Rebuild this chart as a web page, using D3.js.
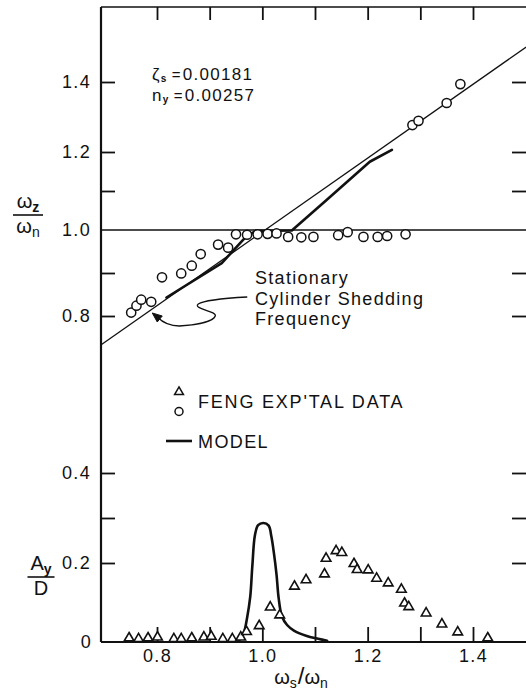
<!DOCTYPE html>
<html>
<head>
<meta charset="utf-8">
<script src="https://cdn.jsdelivr.net/npm/d3@7"></script>
<style>
  html, body { margin: 0; padding: 0; background: #fff; }
  svg text { font-family: "Liberation Sans", Arial, sans-serif; fill: #111; }
</style>
</head>
<body>
<svg id="chart" width="526" height="693"></svg>
<script>
// ---- frequency ratio ω_z/ω_n versus ω_s/ω_n (upper panel) ----
const circleX = [0.751, 0.761, 0.770, 0.789, 0.8095, 0.846, 0.866, 0.883, 0.916, 0.935,
                 0.950, 0.971, 0.991, 1.010, 1.027, 1.049, 1.074, 1.097, 1.144, 1.162,
                 1.192, 1.219, 1.237, 1.272, 1.285, 1.2965, 1.350, 1.376];
const circleY = [0.808, 0.824, 0.838, 0.833, 0.890, 0.899, 0.917, 0.944, 0.966, 0.959,
                 0.990, 0.989, 0.990, 0.991, 0.992, 0.984, 0.983, 0.984, 0.988, 0.995,
                 0.984, 0.984, 0.986, 0.990, 1.277, 1.289, 1.340, 1.394];

// model frequency curve
const modelFreqX = [0.818, 0.923, 0.970, 0.988, 1.056, 1.122, 1.204, 1.246];
const modelFreqY = [0.843, 0.923, 0.986, 0.998, 0.999, 1.077, 1.175, 1.206];

// stationary cylinder shedding frequency line (end points)
const sheddingX = [0.694, 1.501];
const sheddingY = [0.733, 1.500];

// ---- amplitude A_y/D (lower panel) ----
const triX = [0.747, 0.765, 0.783, 0.801, 0.832, 0.846, 0.866, 0.889, 0.903, 0.925,
              0.943, 0.959, 0.970, 0.994, 1.015, 1.033, 1.061, 1.083, 1.118, 1.121,
              1.140, 1.151, 1.174, 1.180, 1.201, 1.217, 1.239, 1.264, 1.270, 1.278,
              1.311, 1.341, 1.371, 1.428];
const triY = [0.010, 0.008, 0.010, 0.012, 0.008, 0.008, 0.010, 0.012, 0.014, 0.008,
              0.008, 0.012, 0.026, 0.041, 0.088, 0.068, 0.141, 0.157, 0.172, 0.210,
              0.227, 0.223, 0.198, 0.183, 0.182, 0.161, 0.149, 0.133, 0.098, 0.089,
              0.073, 0.045, 0.025, 0.010];

const modelAmpX = [0.954, 0.964, 0.971, 0.977, 0.981, 0.986, 0.992, 1.002, 1.012, 1.017,
                   1.022, 1.027, 1.031, 1.037, 1.047, 1.060, 1.083, 1.106, 1.123];
const modelAmpY = [0.001, 0.020, 0.061, 0.114, 0.192, 0.262, 0.284, 0.289, 0.283, 0.260,
                   0.222, 0.170, 0.111, 0.066, 0.043, 0.029, 0.016, 0.008, 0.003];

// ---- ticks ----
const xTicks = [0.8, 0.9, 1.0, 1.1, 1.2, 1.3, 1.4];
const xTickLabels = ["0.8", "", "1.0", "", "1.2", "", "1.4"];
const yTopTicks = [0.8, 0.9, 1.1, 1.2, 1.4];
const yTopTickLabels = ["0.8", "", "", "1.2", "1.4"];
const yTopLabeledOne = ["1.0"];
const yBotTicks = [0.2, 0.3, 0.4];
const yBotTickLabels = ["0.2", "", "0.4"];
const yBotZeroLabel = ["0"];

const params = [["ζ", "s", "0.00181"], ["n", "y", "0.00257"]];
const annotationLines = ["Stationary", "Cylinder Shedding", "Frequency"];
const legendLabels = ["FENG EXP'TAL DATA", "MODEL"];

const svg = d3.select("#chart");
const leftX = 101, topY = 7, rightX = 529, bottomY = 642;

const x = d3.scaleLinear().domain([0.8, 1.4]).range([157, 473]);
const yTop = d3.scaleLinear().domain([0.8, 1.0, 1.2, 1.4]).range([316, 230, 152, 82]);
const yBot = d3.scaleLinear().domain([0, 0.2, 0.4]).range([642, 563, 473]);

const ink = "#111";
const fontSize = 18, spacing = "1.3px";

function styleAxis(g, w) {
  g.select(".domain").remove();
  g.selectAll(".tick line").attr("stroke", ink).attr("stroke-width", w);
  g.selectAll(".tick text")
    .attr("font-size", fontSize)
    .attr("letter-spacing", spacing)
    .attr("fill", ink)
    .style("font-family", "'Liberation Sans', Arial, sans-serif");
}

// frame lines
svg.append("line").attr("x1", leftX).attr("x2", rightX + 5).attr("y1", topY).attr("y2", topY)
  .attr("stroke", ink).attr("stroke-width", 1.6);
svg.append("line").attr("x1", leftX).attr("x2", leftX).attr("y1", topY).attr("y2", bottomY)
  .attr("stroke", ink).attr("stroke-width", 2.2);
svg.append("line").attr("x1", leftX).attr("x2", rightX + 5).attr("y1", bottomY).attr("y2", bottomY)
  .attr("stroke", ink).attr("stroke-width", 2);

// reference line ω_z/ω_n = 1
svg.append("line")
  .attr("x1", leftX).attr("x2", rightX)
  .attr("y1", yTop(1.0)).attr("y2", yTop(1.0))
  .attr("stroke", ink).attr("stroke-width", 1.5);

// bottom x axis
svg.append("g").attr("transform", `translate(0,${bottomY})`)
  .call(d3.axisBottom(x).tickValues(xTicks).tickSizeInner(-15).tickSizeOuter(0).tickPadding(7)
    .tickFormat((d, i) => xTickLabels[i]))
  .call(g => styleAxis(g, 1.8));

// top ticks
svg.append("g").attr("transform", `translate(0,${topY})`)
  .call(d3.axisTop(x).tickValues(xTicks).tickSizeInner(-13).tickSizeOuter(0).tickFormat(""))
  .call(g => styleAxis(g, 1.8));

// left axes
svg.append("g").attr("transform", `translate(${leftX},0)`)
  .call(d3.axisLeft(yTop).tickValues(yTopTicks).tickSizeInner(-14).tickSizeOuter(0).tickPadding(10)
    .tickFormat((d, i) => yTopTickLabels[i]))
  .call(g => styleAxis(g, 1.8));
svg.append("g").attr("transform", `translate(${leftX},0)`)
  .call(d3.axisLeft(yTop).tickValues([1.0]).tickSizeInner(0).tickSizeOuter(0).tickPadding(10)
    .tickFormat((d, i) => yTopLabeledOne[i]))
  .call(g => styleAxis(g, 0));
svg.append("g").attr("transform", `translate(${leftX},0)`)
  .call(d3.axisLeft(yBot).tickValues(yBotTicks).tickSizeInner(-14).tickSizeOuter(0).tickPadding(10)
    .tickFormat((d, i) => yBotTickLabels[i]))
  .call(g => styleAxis(g, 1.8));
svg.append("g").attr("transform", `translate(${leftX},0)`)
  .call(d3.axisLeft(yBot).tickValues([0]).tickSizeInner(0).tickSizeOuter(0).tickPadding(9)
    .tickFormat((d, i) => yBotZeroLabel[i]))
  .call(g => styleAxis(g, 0));

// right ticks
svg.append("g").attr("transform", `translate(${rightX},0)`)
  .call(d3.axisRight(yTop).tickValues(yTopTicks).tickSizeInner(-17).tickSizeOuter(0).tickFormat(""))
  .call(g => styleAxis(g, 1.8));
svg.append("g").attr("transform", `translate(${rightX},0)`)
  .call(d3.axisRight(yBot).tickValues(yBotTicks).tickSizeInner(-17).tickSizeOuter(0).tickFormat(""))
  .call(g => styleAxis(g, 1.8));

// shedding frequency line
const line = d3.line();
svg.append("path")
  .attr("d", line(sheddingX.map((v, i) => [x(v), yTop(sheddingY[i])])))
  .attr("fill", "none").attr("stroke", ink).attr("stroke-width", 1.3);

// model frequency
svg.append("path")
  .attr("d", d3.line().curve(d3.curveLinear)(modelFreqX.map((v, i) => [x(v), yTop(modelFreqY[i])])))
  .attr("fill", "none").attr("stroke", ink).attr("stroke-width", 2.6)
  .attr("stroke-linejoin", "round").attr("stroke-linecap", "round");

// circles
svg.append("g").selectAll("circle")
  .data(circleX.map((v, i) => [v, circleY[i]]))
  .join("circle")
  .attr("cx", d => x(d[0])).attr("cy", d => yTop(d[1]))
  .attr("r", 4.6)
  .attr("fill", "#fff").attr("stroke", ink).attr("stroke-width", 1.5);

// model amplitude
svg.append("path")
  .attr("d", d3.line().curve(d3.curveCatmullRom.alpha(0.5))(modelAmpX.map((v, i) => [x(v), yBot(modelAmpY[i])])))
  .attr("fill", "none").attr("stroke", ink).attr("stroke-width", 2.6)
  .attr("stroke-linejoin", "round").attr("stroke-linecap", "round");

// triangles
const tri = d3.symbol().type(d3.symbolTriangle).size(40);
svg.append("g").selectAll("path")
  .data(triX.map((v, i) => [v, triY[i]]))
  .join("path")
  .attr("d", tri)
  .attr("transform", d => `translate(${x(d[0])},${yBot(d[1])})`)
  .attr("fill", "#fff").attr("stroke", ink).attr("stroke-width", 1.6)
  .attr("stroke-linejoin", "miter");

// parameter text
params.forEach((p, i) => {
  const t = svg.append("text")
    .attr("x", 152).attr("y", 80 + i * 21)
    .attr("font-size", 17).attr("letter-spacing", spacing);
  t.append("tspan").text(p[0]);
  t.append("tspan").attr("font-size", 10).attr("dy", 2).attr("font-weight", "bold").text(p[1]);
  t.append("tspan").attr("dy", -2).attr("dx", 4).attr("font-size", 15).text("=");
  t.append("tspan").attr("dx", 1).text(p[2]);
});

// annotation text
annotationLines.forEach((s, i) => {
  svg.append("text")
    .attr("x", 255).attr("y", 284 + i * 20.5)
    .attr("font-size", fontSize).attr("letter-spacing", spacing)
    .text(s);
});

// annotation arrow, anchored at a point on the shedding line
const tip = [x(0.791), yTop(0.807)];
const tx = tip[0], ty = tip[1];
const arrowPath = `M${tx + 95},${ty - 16} C${tx + 77},${ty - 15} ${tx + 52},${ty - 13} ${tx + 46},${ty - 9}` +
  ` C${tx + 40},${ty - 4} ${tx + 65},${ty - 2} ${tx + 63},${ty + 3}` +
  ` C${tx + 61},${ty + 9} ${tx + 42},${ty + 12} ${tx + 27},${ty + 13}` +
  ` C${tx + 17},${ty + 13} ${tx + 10},${ty + 9} ${tx + 5},${ty + 4}`;
svg.append("path").attr("d", arrowPath)
  .attr("fill", "none").attr("stroke", ink).attr("stroke-width", 1.3);
svg.append("path")
  .attr("d", `M${tx},${ty} L${tx + 10},${ty + 3} L${tx + 5},${ty + 9} Z`)
  .attr("fill", ink).attr("stroke", ink).attr("stroke-width", 1);

// legend
svg.append("path").attr("d", d3.symbol().type(d3.symbolTriangle).size(34))
  .attr("transform", "translate(179,392)")
  .attr("fill", "#fff").attr("stroke", ink).attr("stroke-width", 1.5);
svg.append("circle").attr("cx", 179).attr("cy", 411.5).attr("r", 4)
  .attr("fill", "#fff").attr("stroke", ink).attr("stroke-width", 1.5);
svg.append("text").attr("x", 198).attr("y", 408)
  .attr("font-size", fontSize).attr("letter-spacing", "1.8px").text(legendLabels[0]);
svg.append("line").attr("x1", 166).attr("x2", 192).attr("y1", 441).attr("y2", 441)
  .attr("stroke", ink).attr("stroke-width", 2.6);
svg.append("text").attr("x", 198).attr("y", 448)
  .attr("font-size", fontSize).attr("letter-spacing", "1.4px").text(legendLabels[1]);

// y axis titles
function fraction(cx, barY, topParts, botParts, w) {
  const g = svg.append("g");
  const t1 = g.append("text").attr("x", cx).attr("y", barY - 7).attr("text-anchor", "middle")
    .attr("font-size", 20);
  t1.append("tspan").text(topParts[0]);
  t1.append("tspan").attr("font-size", 14).attr("dy", 4).attr("font-weight", "bold").text(topParts[1]);
  g.append("line").attr("x1", cx - w / 2).attr("x2", cx + w / 2).attr("y1", barY).attr("y2", barY)
    .attr("stroke", ink).attr("stroke-width", 1.6);
  const t2 = g.append("text").attr("x", cx).attr("y", barY + 18).attr("text-anchor", "middle")
    .attr("font-size", 20);
  t2.append("tspan").text(botParts[0]);
  if (botParts[1]) t2.append("tspan").attr("font-size", 14).attr("dy", 4).text(botParts[1]);
}
fraction(28, 215, ["ω", "z"], ["ω", "n"], 30);
fraction(41, 577, ["A", "y"], ["D", ""], 27);

// x axis title
const xt = svg.append("text").attr("x", 301).attr("y", 684).attr("text-anchor", "middle")
  .attr("font-size", 20);
xt.append("tspan").text("ω");
xt.append("tspan").attr("font-size", 14).attr("dy", 4).text("s");
xt.append("tspan").attr("dy", -4).attr("font-size", 24).attr("dx", 1).text("/");
xt.append("tspan").text("ω");
xt.append("tspan").attr("font-size", 14).attr("dy", 4).text("n");
</script>
</body>
</html>
